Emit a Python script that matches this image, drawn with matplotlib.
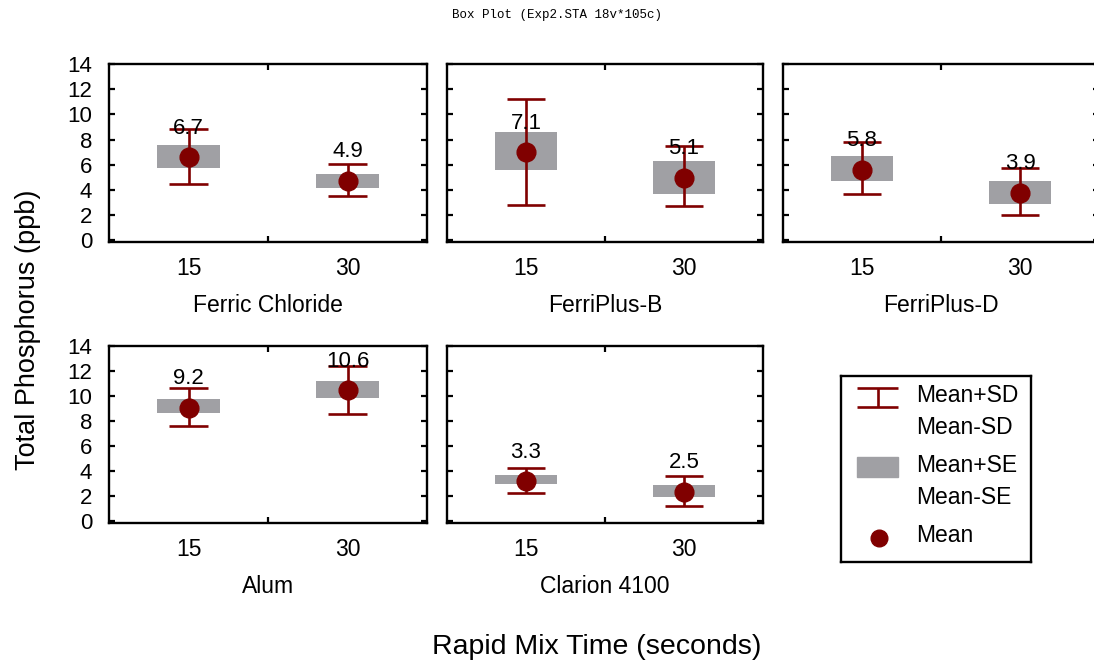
import matplotlib as mpl
import matplotlib.pyplot as plt
from matplotlib.patches import Rectangle
import numpy as np

mpl.rcParams["font.family"] = ["Liberation Sans", "DejaVu Sans"]

# data
groups = ["Ferric Chloride", "FerriPlus-B", "FerriPlus-D", "Alum", "Clarion 4100"]
times = ["15", "30"]
mean = [[6.60, 4.75], [6.98, 4.95], [5.60, 3.78], [9.08, 10.47], [3.20, 2.38]]
se_lo = [[5.77, 4.13], [5.56, 3.70], [4.74, 2.91], [8.64, 9.82], [2.96, 1.94]]
se_hi = [[7.54, 5.29], [8.60, 6.32], [6.72, 4.68], [9.76, 11.18], [3.69, 2.91]]
sd_lo = [[4.50, 3.52], [2.83, 2.70], [3.68, 1.98], [7.62, 8.61], [2.30, 1.23]]
sd_hi = [[8.84, 6.08], [11.24, 7.46], [7.83, 5.74], [10.68, 12.38], [4.29, 3.64]]
labels = [["6.7", "4.9"], ["7.1", "5.1"], ["5.8", "3.9"], ["9.2", "10.6"], ["3.3", "2.5"]]
yticks = [0, 2, 4, 6, 8, 10, 12, 14]

red = "#800000"
grey = "#a0a0a4"
W, H = 1094, 663
lw = 1.9

fig = plt.figure(figsize=(W / 100, H / 100), dpi=100)

# panel boxes in pixels: left, top, right, bottom
boxes = [
    (109, 64, 427, 242),
    (447, 64, 763, 242),
    (783, 64, 1099, 242),
    (109, 346, 427, 523),
    (447, 346, 763, 523),
]

x = np.arange(len(times))
for i, g in enumerate(groups):
    l, t, r, b = boxes[i]
    ax = fig.add_axes([l / W, (H - b) / H, (r - l) / W, (b - t) / H])
    m = np.array(mean[i])
    ax.bar(x, np.array(se_hi[i]) - np.array(se_lo[i]), bottom=se_lo[i],
           width=0.39, color=grey, zorder=1)
    ax.vlines(x, sd_lo[i], sd_hi[i], color=red, lw=lw, zorder=2)
    ax.hlines(sd_lo[i], x - 0.12, x + 0.12, color=red, lw=lw, zorder=2)
    ax.hlines(sd_hi[i], x - 0.12, x + 0.12, color=red, lw=lw, zorder=2)
    ax.plot(x, m, "o", color=red, ms=13.5, zorder=3)
    for xi, mi, lab in zip(x, m, labels[i]):
        ax.annotate(lab, (xi, mi), xytext=(0, 21), textcoords="offset points",
                    ha="center", va="center", fontsize=16, zorder=4)

    ax.set_xlim(-0.5, 1.5)
    ax.set_ylim(-0.13, 14)
    ax.set_xticks(x)
    ax.set_xticklabels(times)
    ax.set_xticks([0.5], minor=True)
    ax.set_yticks(yticks)
    if i in (0, 3):
        ax.set_yticklabels([str(v) for v in yticks])
    else:
        ax.set_yticklabels([])
    ax.tick_params(axis="x", which="major", length=0, labelsize=16.5, pad=11)
    ax.tick_params(axis="x", which="minor", direction="in", length=4, width=1.6,
                   top=True, bottom=True)
    ax.tick_params(axis="y", direction="in", length=4, width=1.6, left=True,
                   right=True, labelsize=16, pad=12)
    for s in ax.spines.values():
        s.set_linewidth(1.7)
    ax.text(0.5, -(306 - 242) / 178, g, transform=ax.transAxes, ha="center",
            va="center", fontsize=16.5)

# legend drawn by hand
lax = fig.add_axes([841 / W, (H - 562) / H, 190 / W, 186 / H])
lax.set_xlim(0, 190)
lax.set_ylim(186, 0)
lax.set_xticks([])
lax.set_yticks([])
for s in lax.spines.values():
    s.set_linewidth(1.7)
lax.hlines([12, 31], 16, 57, color=red, lw=lw)
lax.vlines(36.5, 12, 31, color=red, lw=lw)
lax.add_patch(Rectangle((16, 81), 41, 20, color=grey))
lax.plot([38], [162], "o", color=red, ms=12)
for ty, txt in zip([19, 51, 89, 121, 159], ["Mean+SD", "Mean-SD", "Mean+SE", "Mean-SE", "Mean"]):
    lax.text(75, ty, txt, ha="left", va="center", fontsize=16.5)

fig.text(557 / W, 1 - 15 / H, "Box Plot (Exp2.STA 18v*105c)", ha="center",
         va="center", fontsize=9, family="Liberation Mono")
fig.text(28 / W, 1 - 330 / H, "Total Phosphorus (ppb)", rotation=90,
         ha="center", va="center", fontsize=19.5)
fig.text(597 / W, 1 - 647 / H, "Rapid Mix Time (seconds)", ha="center",
         va="center", fontsize=20.5)

fig.savefig("out.png", dpi=100)
